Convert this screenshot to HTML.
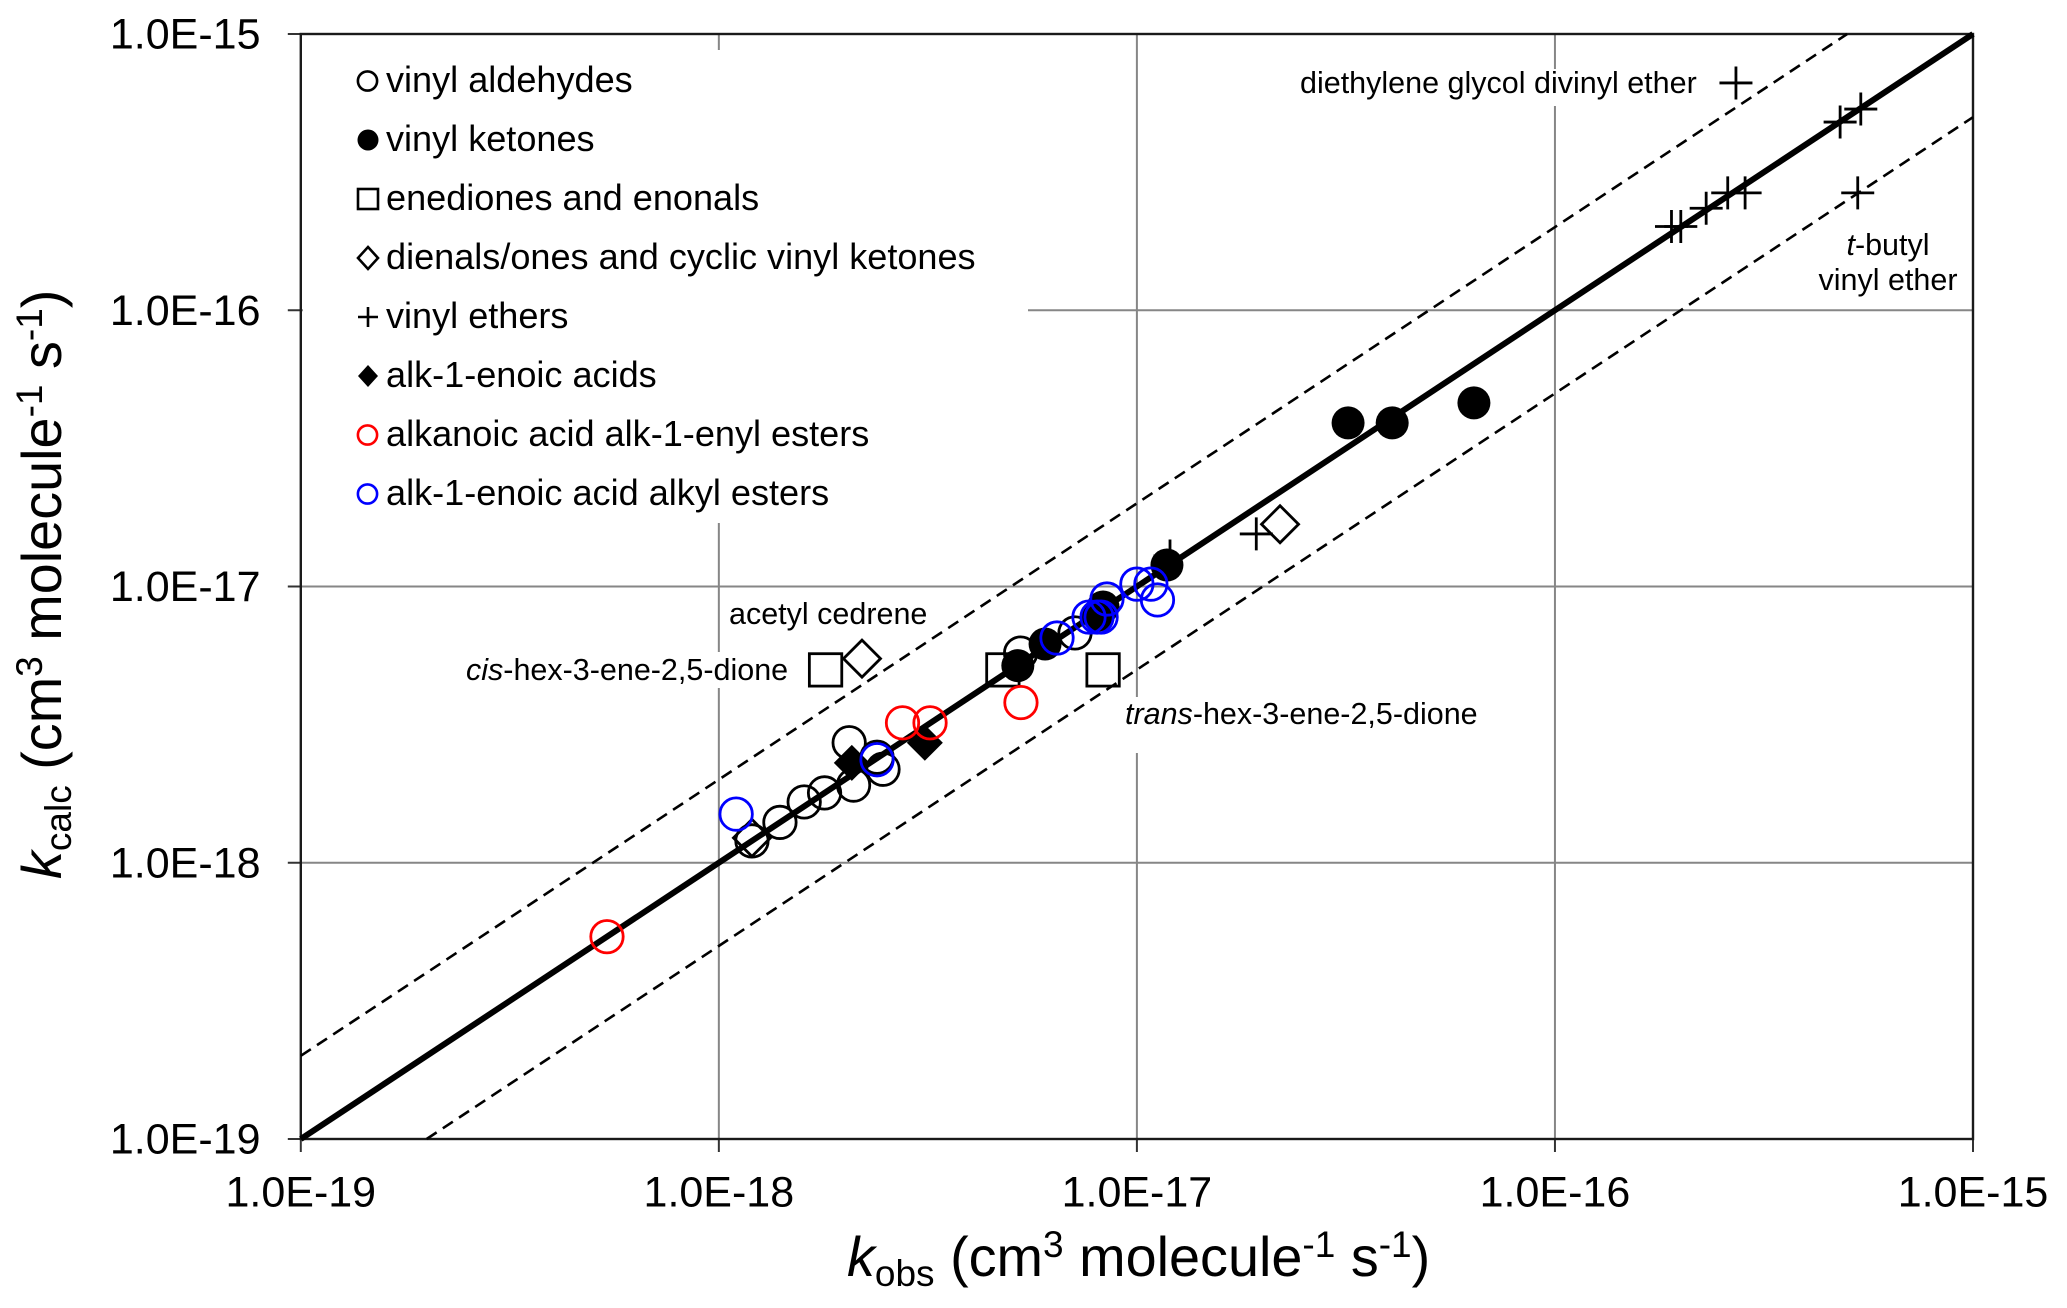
<!DOCTYPE html>
<html lang="en">
<head>
<meta charset="utf-8">
<title>kcalc vs kobs</title>
<style>
  html, body { margin: 0; padding: 0; background: #fff; }
  svg { display: block; }
  text { font-family: "Liberation Sans", Arial, sans-serif; fill: #000; }
  .lg { font-size: 36.1px; }
  .an { font-size: 30.5px; }
  .ti { font-size: 55.8px; }
  .it { font-style: italic; }
</style>
</head>
<body>
<svg id="chart" xmlns="http://www.w3.org/2000/svg" width="2067" height="1308" viewBox="0 0 2067 1308">
  <rect x="0" y="0" width="2067" height="1308" fill="#fff"/>
  <g id="grid"></g>
  <g fill="#fff">
    <rect x="303" y="50" width="725" height="473"/>
    <rect x="1295" y="69" width="410" height="37"/>
    <rect x="464" y="652" width="326" height="36"/>
    <rect x="1122" y="697" width="358" height="56"/>
  </g>
  <g id="axes"></g>
  <g id="lines"></g>
  <g id="marks"></g>
  <g id="ticks"></g>

  <g>
    <g>
      <circle cx="367.5" cy="81" r="9.6" fill="none" stroke="#000" stroke-width="2.6"/>
      <text class="lg" x="386" y="92">vinyl aldehydes</text>
    </g>
    <g>
      <circle cx="368" cy="140" r="10.5" fill="#000"/>
      <text class="lg" x="386" y="151">vinyl ketones</text>
    </g>
    <g>
      <rect x="358" y="189" width="20" height="20" fill="none" stroke="#000" stroke-width="2.6"/>
      <text class="lg" x="386" y="210">enediones and enonals</text>
    </g>
    <g>
      <polygon points="368,247 378,258 368,269 358,258" fill="none" stroke="#000" stroke-width="2.6"/>
      <text class="lg" x="386" y="269">dienals/ones and cyclic vinyl ketones</text>
    </g>
    <g>
      <path d="M358,317H378M368,307V327" fill="none" stroke="#000" stroke-width="2.6"/>
      <text class="lg" x="386" y="328">vinyl ethers</text>
    </g>
    <g>
      <polygon points="368,365 378,376 368,387 358,376" fill="#000"/>
      <text class="lg" x="386" y="387">alk-1-enoic acids</text>
    </g>
    <g>
      <circle cx="367.5" cy="435" r="9.6" fill="none" stroke="#f00" stroke-width="2.6"/>
      <text class="lg" x="386" y="446">alkanoic acid alk-1-enyl esters</text>
    </g>
    <g>
      <circle cx="367.5" cy="494" r="9.6" fill="none" stroke="#00f" stroke-width="2.6"/>
      <text class="lg" x="386" y="505">alk-1-enoic acid alkyl esters</text>
    </g>
  </g>

  <g>
    <text class="an" x="1300" y="93">diethylene glycol divinyl ether</text>
    <text class="an" x="729" y="624">acetyl cedrene</text>
    <text class="an" x="466" y="680"><tspan class="it">cis</tspan>-hex-3-ene-2,5-dione</text>
    <text class="an" x="1125" y="724"><tspan class="it">trans</tspan>-hex-3-ene-2,5-dione</text>
    <text class="an" text-anchor="middle" x="1888" y="255"><tspan class="it">t</tspan>-butyl</text>
    <text class="an" text-anchor="middle" x="1888" y="290">vinyl ether</text>
  </g>

  <text class="ti" x="847" y="1276"><tspan class="it">k</tspan><tspan font-size="37" dy="10">obs</tspan><tspan dy="-10"> (cm</tspan><tspan font-size="37" dy="-19">3</tspan><tspan dy="19"> molecule</tspan><tspan font-size="37" dy="-19">-1</tspan><tspan dy="19"> s</tspan><tspan font-size="37" dy="-19">-1</tspan><tspan dy="19">)</tspan></text>
  <text class="ti" transform="translate(61,879) rotate(-90)"><tspan class="it">k</tspan><tspan font-size="37" dy="10">calc</tspan><tspan dy="-10"> (cm</tspan><tspan font-size="37" dy="-19">3</tspan><tspan dy="19"> molecule</tspan><tspan font-size="37" dy="-19">-1</tspan><tspan dy="19"> s</tspan><tspan font-size="37" dy="-19">-1</tspan><tspan dy="19">)</tspan></text>
</svg>

<script>
// Axis data
const tickValues = [1e-19, 1e-18, 1e-17, 1e-16, 1e-15];
const tickLabels = ['1.0E-19', '1.0E-18', '1.0E-17', '1.0E-16', '1.0E-15'];

// Reference lines (kobs, kcalc end points)
const identityObs = [1e-19, 1e-15];
const identityCalc = [1e-19, 1e-15];
const upperBoundObs = [1e-19, 5e-16];
const upperBoundCalc = [2e-19, 1e-15];
const lowerBoundObs = [2e-19, 1e-15];
const lowerBoundCalc = [1e-19, 5e-16];

// Series values
const enedionesObs = [1.80e-18, 4.78e-18, 8.30e-18];
const enedionesCalc = [4.99e-18, 4.99e-18, 4.99e-18];

const dienalsObs = [2.20e-18, 1.20e-18, 2.20e-17];
const dienalsCalc = [5.48e-18, 1.23e-18, 1.68e-17];

const vinylEthersObs = [1.20e-17, 1.93e-17, 1.90e-16, 2.00e-16, 2.30e-16, 2.59e-16, 2.85e-16, 4.81e-16, 5.39e-16, 2.71e-16, 5.30e-16];
const vinylEthersCalc = [1.29e-17, 1.55e-17, 2.01e-16, 2.01e-16, 2.34e-16, 2.66e-16, 2.66e-16, 4.80e-16, 5.35e-16, 6.65e-16, 2.66e-16];

const vinylAldehydesObs = [1.20e-18, 1.40e-18, 1.60e-18, 1.79e-18, 2.10e-18, 2.05e-18, 2.47e-18, 2.39e-18, 5.27e-18, 7.11e-18];
const vinylAldehydesCalc = [1.20e-18, 1.40e-18, 1.66e-18, 1.79e-18, 1.91e-18, 2.72e-18, 2.18e-18, 2.41e-18, 5.74e-18, 6.79e-18];

const vinylKetonesObs = [5.19e-18, 6.03e-18, 8.07e-18, 8.30e-18, 1.18e-17, 3.20e-17, 4.08e-17, 6.40e-17];
const vinylKetonesCalc = [5.17e-18, 6.19e-18, 7.88e-18, 8.43e-18, 1.196e-17, 3.91e-17, 3.91e-17, 4.62e-17];

const enoicAcidsObs = [2.08e-18, 3.11e-18];
const enoicAcidsCalc = [2.30e-18, 2.72e-18];

const alkenylEstersObs = [5.40e-19, 2.75e-18, 3.20e-18, 5.28e-18];
const alkenylEstersCalc = [5.40e-19, 3.21e-18, 3.21e-18, 3.80e-18];

const alkylEstersObs = [1.10e-18, 2.39e-18, 6.44e-18, 7.68e-18, 8.03e-18, 8.21e-18, 8.48e-18, 1.00e-17, 1.08e-17, 1.12e-17];
const alkylEstersCalc = [1.50e-18, 2.36e-18, 6.51e-18, 7.75e-18, 7.75e-18, 7.75e-18, 9.01e-18, 1.02e-17, 1.02e-17, 8.94e-18];

// Axis functions
function xScale(v) { return 300.8 + (Math.log10(v) + 19) * 418.05; }
function yScale(v) { return 1139 - (Math.log10(v) + 19) * 276.25; }

const NS = 'http://www.w3.org/2000/svg';
const gridLayer = document.getElementById('grid');
const axesLayer = document.getElementById('axes');
const lineLayer = document.getElementById('lines');
const markLayer = document.getElementById('marks');
const tickLayer = document.getElementById('ticks');

function attrs(el, a) {
  Object.keys(a).forEach(function (k) { el.setAttribute(k, a[k]); });
  return el;
}

// Gridlines, tick marks and tick labels
tickValues.forEach(function (v, i) {
  const gx = xScale(v), gy = yScale(v);
  const inner = i > 0 && i < tickValues.length - 1;

  if (inner) {
    const vg = document.createElementNS(NS, 'line');
    
    
    attrs(vg, { x1: gx, x2: gx, y1: yScale(1e-15), y2: yScale(1e-19), stroke: '#868686', 'stroke-width': 2 });
    gridLayer.appendChild(vg);

    const hg = document.createElementNS(NS, 'line');
    
    
    attrs(hg, { x1: xScale(1e-19), x2: xScale(1e-15), y1: gy, y2: gy, stroke: '#868686', 'stroke-width': 2 });
    gridLayer.appendChild(hg);
  }

  const xt = document.createElementNS(NS, 'line');
  
  
  attrs(xt, { x1: gx, x2: gx, y1: yScale(1e-19), y2: yScale(1e-19) + 13, stroke: '#333', 'stroke-width': 2 });
  axesLayer.appendChild(xt);

  const yt = document.createElementNS(NS, 'line');
  
  
  attrs(yt, { x1: xScale(1e-19) - 13, x2: xScale(1e-19), y1: gy, y2: gy, stroke: '#333', 'stroke-width': 2 });
  axesLayer.appendChild(yt);

  const xl = document.createElementNS(NS, 'text');
  
  
  attrs(xl, { 'text-anchor': 'middle', 'font-size': 43, x: gx, y: 1206.5 });
  xl.textContent = tickLabels[i];
  tickLayer.appendChild(xl);

  const yl = document.createElementNS(NS, 'text');
  
  
  attrs(yl, { 'text-anchor': 'end', 'font-size': 43, x: 260.5, y: gy + 14.5 });
  yl.textContent = tickLabels[i];
  tickLayer.appendChild(yl);
});

// Plot frame
const frame = document.createElementNS(NS, 'rect');


attrs(frame, {
  x: xScale(1e-19), y: yScale(1e-15),
  width: xScale(1e-15) - xScale(1e-19), height: yScale(1e-19) - yScale(1e-15),
  fill: 'none', stroke: '#1a1a1a', 'stroke-width': 2.4
});
axesLayer.appendChild(frame);

// Reference lines
const upperLine = document.createElementNS(NS, 'line');


attrs(upperLine, { x1: xScale(upperBoundObs[0]), y1: yScale(upperBoundCalc[0]), x2: xScale(upperBoundObs[1]), y2: yScale(upperBoundCalc[1]), stroke: '#000', 'stroke-width': 2.6, 'stroke-dasharray': '12 7.4' });
lineLayer.appendChild(upperLine);

const lowerLine = document.createElementNS(NS, 'line');


attrs(lowerLine, { x1: xScale(lowerBoundObs[0]), y1: yScale(lowerBoundCalc[0]), x2: xScale(lowerBoundObs[1]), y2: yScale(lowerBoundCalc[1]), stroke: '#000', 'stroke-width': 2.6, 'stroke-dasharray': '12 7.4' });
lineLayer.appendChild(lowerLine);

const identityLine = document.createElementNS(NS, 'line');


attrs(identityLine, { x1: xScale(identityObs[0]), y1: yScale(identityCalc[0]), x2: xScale(identityObs[1]), y2: yScale(identityCalc[1]), stroke: '#000', 'stroke-width': 6 });
lineLayer.appendChild(identityLine);

// Marks
enedionesObs.forEach(function (v, i) {
  const cx = xScale(v), cy = yScale(enedionesCalc[i]);
  const el = document.createElementNS(NS, 'rect');
  
  
  attrs(el, { x: cx - 16.2, y: cy - 16.2, width: 32.4, height: 32.4, fill: 'none', stroke: '#000', 'stroke-width': 2.8 });
  markLayer.appendChild(el);
});

dienalsObs.forEach(function (v, i) {
  const cx = xScale(v), cy = yScale(dienalsCalc[i]);
  const el = document.createElementNS(NS, 'polygon');
  
  
  attrs(el, { points: [cx, cy - 18.5, cx + 18.5, cy, cx, cy + 18.5, cx - 18.5, cy].join(' '), fill: 'none', stroke: '#000', 'stroke-width': 2.8 });
  markLayer.appendChild(el);
});

vinylEthersObs.forEach(function (v, i) {
  const cx = xScale(v), cy = yScale(vinylEthersCalc[i]);
  const el = document.createElementNS(NS, 'path');
  
  
  attrs(el, { d: 'M' + (cx - 16.5) + ',' + cy + 'H' + (cx + 16.5) + 'M' + cx + ',' + (cy - 16.5) + 'V' + (cy + 16.5), fill: 'none', stroke: '#000', 'stroke-width': 2.8 });
  markLayer.appendChild(el);
});

vinylAldehydesObs.forEach(function (v, i) {
  const el = document.createElementNS(NS, 'circle');
  
  
  attrs(el, { cx: xScale(v), cy: yScale(vinylAldehydesCalc[i]), r: 16.2, fill: 'none', stroke: '#000', 'stroke-width': 2.8 });
  markLayer.appendChild(el);
});

vinylKetonesObs.forEach(function (v, i) {
  const el = document.createElementNS(NS, 'circle');
  
  
  attrs(el, { cx: xScale(v), cy: yScale(vinylKetonesCalc[i]), r: 16.5, fill: '#000' });
  markLayer.appendChild(el);
});

enoicAcidsObs.forEach(function (v, i) {
  const cx = xScale(v), cy = yScale(enoicAcidsCalc[i]);
  const el = document.createElementNS(NS, 'polygon');
  
  
  attrs(el, { points: [cx, cy - 18, cx + 18, cy, cx, cy + 18, cx - 18, cy].join(' '), fill: '#000' });
  markLayer.appendChild(el);
});

alkenylEstersObs.forEach(function (v, i) {
  const el = document.createElementNS(NS, 'circle');
  
  
  attrs(el, { cx: xScale(v), cy: yScale(alkenylEstersCalc[i]), r: 16.2, fill: 'none', stroke: '#f00', 'stroke-width': 2.8 });
  markLayer.appendChild(el);
});

alkylEstersObs.forEach(function (v, i) {
  const el = document.createElementNS(NS, 'circle');
  
  
  attrs(el, { cx: xScale(v), cy: yScale(alkylEstersCalc[i]), r: 16.2, fill: 'none', stroke: '#00f', 'stroke-width': 2.8 });
  markLayer.appendChild(el);
});
</script>
</body>
</html>
